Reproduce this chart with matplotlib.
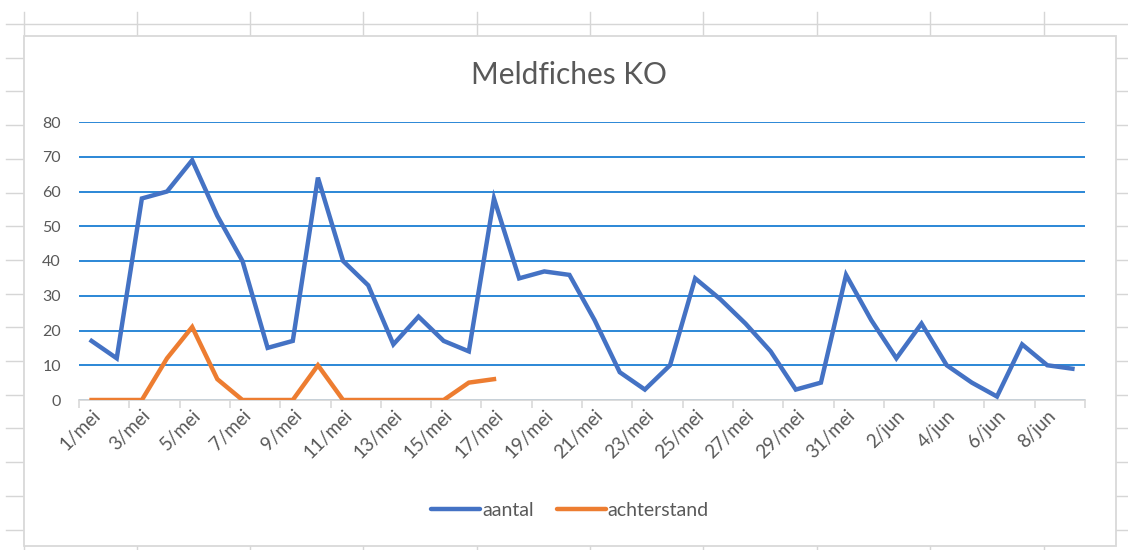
import matplotlib
matplotlib.use("Agg")
import matplotlib.pyplot as plt
from matplotlib.lines import Line2D
from matplotlib.patches import Rectangle

# ---- data ----
dates = [f"{d}/mei" for d in range(1, 32)] + [f"{d}/jun" for d in range(1, 10)]
aantal = [17, 12, 58, 60, 69, 53, 40, 15, 17, 64,
          40, 33, 16, 24, 17, 14, 58, 35, 37, 36,
          23, 8, 3, 10, 35, 29, 22, 14, 3, 5,
          36, 23, 12, 22, 10, 5, 1, 16, 10, 9]
achterstand = [0, 0, 0, 12, 21, 6, 0, 0, 0, 10, 0, 0, 0, 0, 0, 5, 6]
yticks = [0, 10, 20, 30, 40, 50, 60, 70, 80]
title = "Meldfiches KO"

W, H = 1128, 550
FONT = "Lato"
TXT = "#595959"
plt.rcParams["font.family"] = [FONT, "DejaVu Sans"]

fig = plt.figure(figsize=(W / 100, H / 100), dpi=100)
fig.patch.set_facecolor("white")

def fx(x):
    return x / W

def fy(y):
    return 1 - y / H

# spreadsheet background grid
grid_c = "#d6d6d6"
col_x = [24, 137, 250, 363, 477, 590, 703, 817, 930, 1044]
for x in col_x:
    fig.add_artist(Line2D([fx(x), fx(x)], [fy(12), fy(550)], color=grid_c, lw=1.0, zorder=0))
for k in range(16):
    y = 24 + 33.7 * k
    fig.add_artist(Line2D([fx(6), fx(1128)], [fy(y), fy(y)], color=grid_c, lw=1.0, zorder=0))

# chart area
fig.add_artist(Rectangle((fx(24), fy(546)), (1116 - 24) / W, (546 - 36) / H,
                         transform=fig.transFigure, facecolor="white",
                         edgecolor="#d9d9d9", lw=1.3, zorder=1))

ax = fig.add_axes([fx(79), fy(400), (1085 - 79) / W, (400 - 122) / H], zorder=2)
ax.set_facecolor("none")

x_a = list(range(len(aantal)))
x_b = list(range(len(achterstand)))
ax.plot(x_a, aantal, color="#4472C4", lw=3.2, solid_joinstyle="miter", label="aantal", zorder=4)
ax.plot(x_b, achterstand, color="#ED7D31", lw=3.2, solid_joinstyle="miter", label="achterstand", zorder=4)

ax.set_xlim(-0.5, len(dates) - 0.5)
ax.set_ylim(0, 80)
ax.set_yticks(yticks)
ax.yaxis.grid(True, color="#2b87d6", lw=1.4)
ax.set_axisbelow(True)
for s in ["top", "right", "left"]:
    ax.spines[s].set_visible(False)
ax.spines["bottom"].set_color("#d9d9d9")
ax.spines["bottom"].set_linewidth(1.3)
ax.spines["bottom"].set_zorder(3)

ax.tick_params(axis="y", length=0, pad=13, labelsize=11.5, labelcolor=TXT)
# major ticks at category boundaries every 2 categories
ax.set_xticks([i - 0.5 for i in range(0, len(dates) + 1, 2)])
ax.set_xticklabels([])
ax.tick_params(axis="x", which="major", length=6, width=1.2, color="#d9d9d9", direction="out")
ax.set_xticks(list(range(0, len(dates), 2)), minor=True)
ax.set_xticklabels(dates[::2], minor=True, rotation=45, ha="right", va="top",
                   rotation_mode="anchor", fontsize=13.5, color=TXT)
ax.tick_params(axis="x", which="minor", length=0, pad=5)

fig.text(fx(569), fy(75), title, ha="center", va="center", fontsize=21.5, color=TXT)

leg = fig.legend(handles=ax.get_lines(), loc="center", bbox_to_anchor=(fx(570), fy(510)),
                 ncol=2, frameon=False, fontsize=14, handlelength=2.5, handletextpad=0.1,
                 columnspacing=1.2, labelcolor=TXT)
for h in leg.legend_handles:
    h.set_linewidth(3.2)
    h.set_solid_capstyle("round")

fig.savefig("out.png", dpi=100)
